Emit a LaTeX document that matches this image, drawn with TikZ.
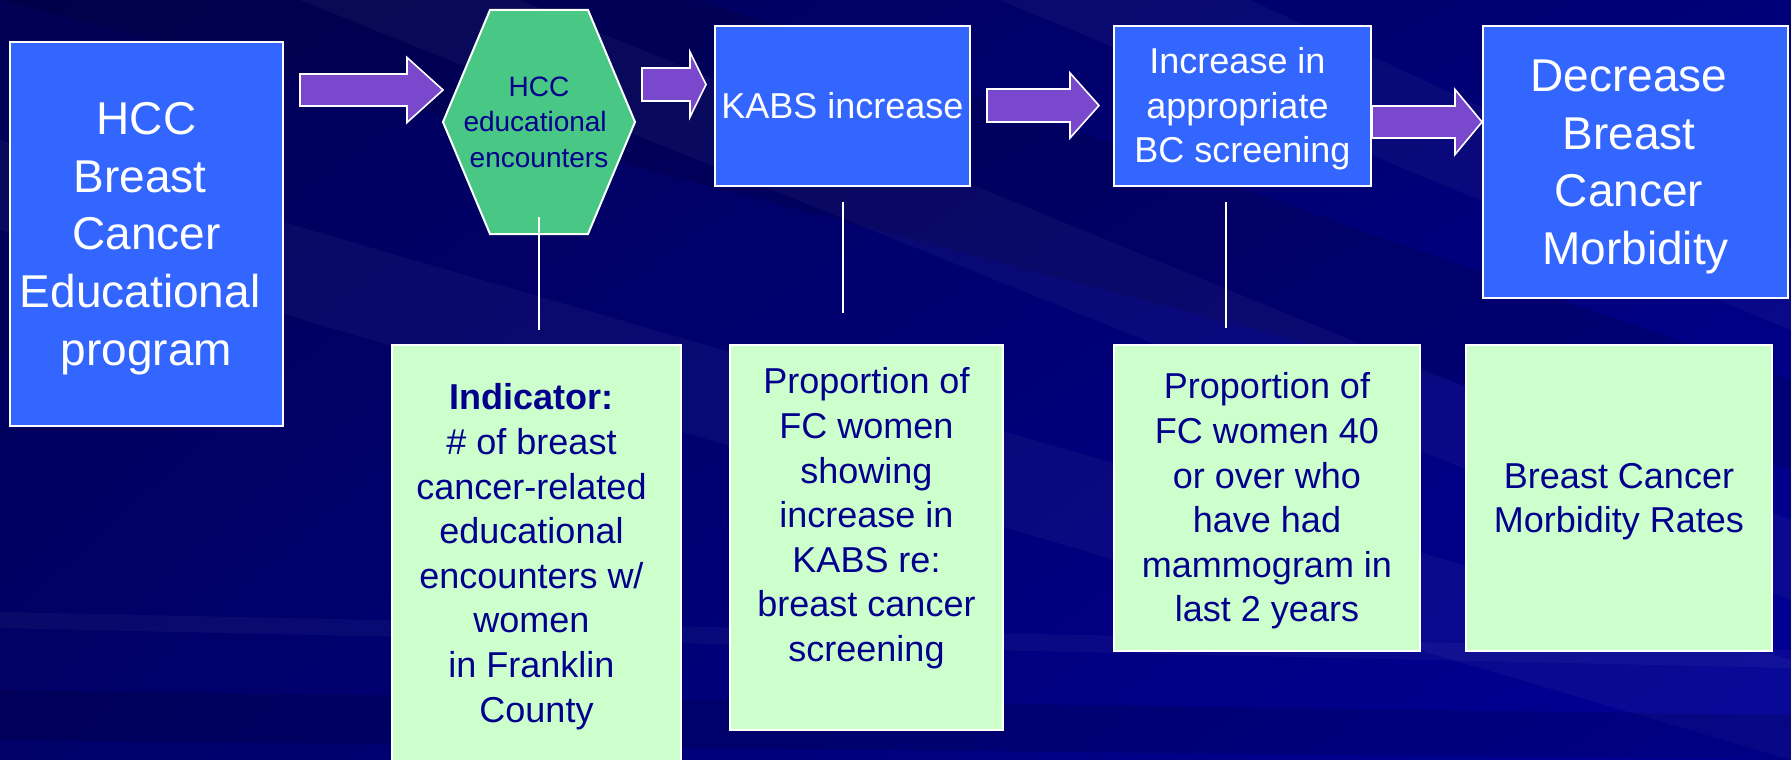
\documentclass[tikz,border=0pt]{standalone}
\usepackage{fontspec}
\setmainfont{Liberation Sans}
\usetikzlibrary{calc,shadings}

\definecolor{boxblue}{RGB}{51,102,255}
\definecolor{hexgreen}{RGB}{72,199,133}
\definecolor{palegreen}{RGB}{204,255,204}
\definecolor{arrowpurple}{RGB}{122,72,204}
\definecolor{inknavy}{RGB}{0,0,140}
\definecolor{bgUL}{RGB}{0,0,84}
\definecolor{bgUR}{RGB}{0,0,120}
\definecolor{bgLL}{RGB}{0,0,104}
\definecolor{bgLR}{RGB}{0,0,152}

% line box of the face (ascent and descent), so text centres like a slide text frame
\newcommand\ls{\rule[-0.212em]{0pt}{1.117em}}
% a kept trailing word space
\newcommand\tsp{\makebox[0.278em]{}}

\tikzset{
  framed text/.style={align=center, inner sep=0pt},
  topbox/.style={framed text, draw=white, line width=2pt, fill=boxblue, text=white},
  measurebox/.style={framed text, draw=white, line width=2pt, fill=palegreen,
    text=inknavy, font=\fontsize{36}{44.6}\selectfont},
  hexshape/.style={draw=white, line width=2pt, fill=hexgreen, line join=miter},
  arrowbody/.style={draw=white, line width=1.6pt, fill=arrowpurple, line join=miter},
  stem/.style={draw=white, line width=2pt},
  bigtext/.style={font=\fontsize{46}{57.7}\selectfont},
  midtext/.style={font=\fontsize{36}{44.5}\selectfont},
  streak/.style={fill=white, opacity=0.035},
  shadowband/.style={fill=black, opacity=0.12},
}

% block arrow: start, tip, shaft half-height, head half-height, head length
\newcommand\flowarrow[5]{%
  \draw[arrowbody] ($(#1)+(0,-#3)$) -- ($(#2)+(-#5,-#3)$) -- ($(#2)+(-#5,-#4)$)
    -- (#2) -- ($(#2)+(-#5,#4)$) -- ($(#2)+(-#5,#3)$) -- ($(#1)+(0,#3)$) -- cycle;}

\begin{document}
\begin{tikzpicture}[x=1pt,y=-1pt]
\useasboundingbox (0,0) rectangle (1791,760);
\clip (0,0) rectangle (1791,760);

% backdrop with diagonal light streaks
\shade[upper left=bgUL, upper right=bgUR, lower left=bgLL, lower right=bgLR]
  (0,0) rectangle (1791,760);
\fill[shadowband] (0,0) -- (700,0) -- (1791,380) -- (1791,470) -- cycle;
\fill[streak] (0,140) -- (0,230) -- (1791,760) -- (1791,660) -- cycle;
\fill[streak] (300,0) -- (520,0) -- (1791,520) -- (1791,600) -- cycle;
\fill[streak] (1000,0) -- (1250,0) -- (1791,250) -- (1791,330) -- cycle;
\fill[shadowband] (0,690) -- (1791,715) -- (1791,760) -- (0,740) -- cycle;
\fill[streak] (0,612) -- (1791,650) -- (1791,668) -- (0,628) -- cycle;

% top row: program, activity, outcomes
\node[topbox,bigtext,minimum width=273pt,minimum height=384pt] (prog) at (146.5,234)
  {\ls HCC\\Breast\tsp\\Cancer\\Educational\tsp\\program\ls};

\coordinate (hexc) at (539,122);
\draw[hexshape] ($(hexc)+(-49,-112)$) -- ($(hexc)+(49,-112)$) -- ($(hexc)+(96,0)$)
  -- ($(hexc)+(49,112)$) -- ($(hexc)+(-49,112)$) -- ($(hexc)+(-96,0)$) -- cycle;
\node[framed text, font=\fontsize{28}{35.5}\selectfont, text=inknavy]
  (hex) at (hexc) {\ls HCC\\educational\tsp\\encounters\ls};

\node[topbox,midtext,minimum width=255pt,minimum height=160pt] (kabs) at (842.5,106)
  {\ls KABS increase\ls};
\node[topbox,midtext,minimum width=257pt,minimum height=160pt] (incr) at (1242.5,106)
  {\ls Increase in\tsp\\appropriate\tsp\\BC screening\ls};
\node[topbox,bigtext,minimum width=305pt,minimum height=272pt] (decr) at (1635.5,162)
  {\ls Decrease\tsp\\Breast\tsp\\Cancer\tsp\\Morbidity\ls};

% bottom row: indicators
\node[measurebox,minimum width=289pt,minimum height=417pt] (ind) at (536.5,553.5)
  {\ls\textbf{Indicator:}\tsp\\\# of breast\tsp\\cancer-related\tsp\\educational\tsp\\%
   encounters w/\tsp\\women\tsp\\in Franklin\tsp\\County\ls};
\node[measurebox,minimum width=273pt,minimum height=385pt] (prop1) at (866.5,537.5)
  {\ls Proportion of\\FC women\\showing\\increase in\\KABS re:\\breast cancer\\screening\\\ls};
\node[measurebox,minimum width=306pt,minimum height=306pt] (prop2) at (1267,498)
  {\ls Proportion of\\FC women 40\\or over who\\have had\\mammogram in\\last 2 years\ls};
\node[measurebox,minimum width=306pt,minimum height=306pt] (rates) at (1619,498)
  {\ls Breast Cancer\\Morbidity Rates\ls};

% block arrows along the chain
\coordinate (a1s) at ($(prog.east |- 0,90)+(16,0)$);
\coordinate (a1t) at ($(hexc)+(-96,-32)$);
\flowarrow{a1s}{a1t}{16}{32.5}{36}
\coordinate (a2s) at ($(hexc)+(103,-37.5)$);
\coordinate (a2t) at ($(kabs.west |- a2s)+(-8,0)$);
\flowarrow{a2s}{a2t}{16.5}{32.5}{16}
\coordinate (a3s) at ($(kabs.east)+(16,-0.5)$);
\coordinate (a3t) at ($(incr.west)+(-14,-0.5)$);
\flowarrow{a3s}{a3t}{16.5}{32.5}{29}
\coordinate (a4s) at ($(incr.east |- 0,122)$);
\coordinate (a4t) at ($(decr.west |- 0,122)$);
\flowarrow{a4s}{a4t}{16}{32.5}{27}

% stems from results down to their indicators
\draw[stem] ($(hexc)+(0,95)$) -- ($(ind.north -| hexc)+(0,-14)$);
\draw[stem] ($(kabs.south)+(0,15)$) -- ($(prop1.north -| kabs.south)+(0,-31)$);
\draw[stem] ($(incr.south)+(-16.5,15)$) -- ($(prop2.north -| incr.south)+(-16.5,-16)$);
\end{tikzpicture}
\end{document}
